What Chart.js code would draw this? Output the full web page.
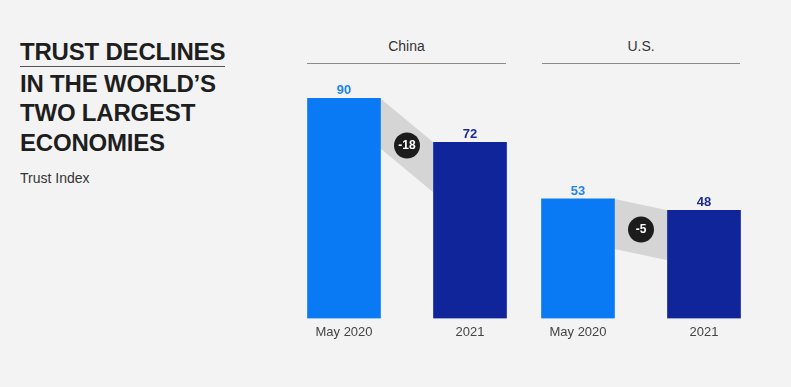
<!DOCTYPE html>
<html>
<head>
<meta charset="utf-8">
<script src="https://cdn.jsdelivr.net/npm/chart.js@4.4.0/dist/chart.umd.min.js"></script>
<style>
  html, body { margin:0; padding:0; background:#f3f3f3; }
  body { width:791px; height:387px; position:relative; overflow:hidden; font-family:"Liberation Sans", Arial, sans-serif; }
  .title { position:absolute; left:20px; top:37px; font-weight:bold; font-size:24px; line-height:29.5px; letter-spacing:-0.2px; color:#1e1e1e; }
  .title .l1 { display:inline-block; border-bottom:1px solid #555; line-height:26px; padding-bottom:1px; margin-bottom:1.5px; }
  .sub { position:absolute; left:20px; top:170px; font-size:14px; color:#333; }
  .hdr { position:absolute; top:38px; font-size:14px; color:#333; text-align:center; }
  .hline { position:absolute; top:63px; height:1px; background:#8a8a8a; }
  canvas { position:absolute; }
</style>
</head>
<body>
<div class="title"><span class="l1">TRUST DECLINES</span><br>IN THE WORLD’S<br>TWO LARGEST<br>ECONOMIES</div>
<div class="sub">Trust Index</div>
<div class="hdr" style="left:307px;width:199px;">China</div>
<div class="hline" style="left:307px;width:199px;"></div>
<div class="hdr" style="left:542px;width:198px;">U.S.</div>
<div class="hline" style="left:542px;width:198px;"></div>
<div style="position:absolute;left:281px;top:0;width:252px;height:387px;"><canvas id="cn"></canvas></div>
<div style="position:absolute;left:515px;top:0;width:252px;height:387px;"><canvas id="us"></canvas></div>
<script>
const categories = ["May 2020", "2021"];
const chinaValues = [90, 72];
const usValues = [53, 48];
const barColors = ["#0a7af4", "#10259a"];
const labelColors = ["#1f82f2", "#1c2b94"];

const bandPlugin = {
  id: 'band',
  beforeDatasetsDraw(chart) {
    const meta = chart.getDatasetMeta(0);
    const b0 = meta.data[0], b1 = meta.data[1];
    const vals = chart.data.datasets[0].data;
    const ctx = chart.ctx;
    const x0 = b0.x + b0.width / 2, x1 = b1.x - b1.width / 2;
    const t = 50;
    ctx.save();
    ctx.fillStyle = '#d5d5d5';
    ctx.beginPath();
    ctx.moveTo(x0, b0.y);
    ctx.lineTo(x1, b1.y);
    ctx.lineTo(x1, b1.y + t);
    ctx.lineTo(x0, b0.y + t);
    ctx.closePath();
    ctx.fill();
    const cx = (x0 + x1) / 2, cy = (b0.y + b1.y) / 2 + t / 2;
    ctx.fillStyle = '#1c1c1c';
    ctx.beginPath();
    ctx.arc(cx, cy, 13, 0, Math.PI * 2);
    ctx.fill();
    ctx.fillStyle = '#ffffff';
    ctx.font = 'bold 12px "Liberation Sans", Arial, sans-serif';
    ctx.textAlign = 'center';
    ctx.textBaseline = 'middle';
    ctx.fillText(String(vals[1] - vals[0]), cx, cy + 0.5);
    ctx.restore();
  },
  afterDatasetsDraw(chart) {
    const meta = chart.getDatasetMeta(0);
    const vals = chart.data.datasets[0].data;
    const ctx = chart.ctx;
    ctx.save();
    ctx.font = 'bold 13px "Liberation Sans", Arial, sans-serif';
    ctx.textAlign = 'center';
    ctx.textBaseline = 'middle';
    meta.data.forEach((bar, i) => {
      ctx.fillStyle = labelColors[i];
      ctx.fillText(String(vals[i]), bar.x, bar.y - 8);
    });
    ctx.restore();
  }
};

function makeChart(id, values, padTop) {
  return new Chart(document.getElementById(id), {
    type: 'bar',
    data: {
      labels: categories,
      datasets: [{ data: values, backgroundColor: barColors, barThickness: 73, borderWidth: 0 }]
    },
    plugins: [bandPlugin],
    options: {
      responsive: true,
      maintainAspectRatio: false,
      animation: false,
      events: [],
      layout: { padding: { top: padTop, bottom: 41, left: 0, right: 0 } },
      plugins: { legend: { display: false }, tooltip: { enabled: false } },
      scales: {
        x: {
          grid: { display: false, drawTicks: false },
          border: { display: false },
          ticks: { color: '#444', font: { size: 13, family: '"Liberation Sans", Arial, sans-serif' }, padding: 6 }
        },
        y: { display: false, min: 0, max: 100 }
      }
    }
  });
}
makeChart('cn', chinaValues, 74);
makeChart('us', usValues, 93);
</script>
</body>
</html>
